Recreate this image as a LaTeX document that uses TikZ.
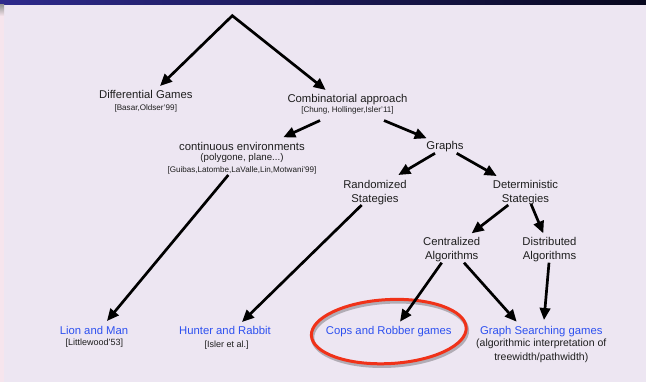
\documentclass[tikz,border=0pt]{standalone}
\usepackage{fontspec}
\setmainfont{Liberation Sans}
\usepackage{tikz}
\usetikzlibrary{calc, arrows.meta}
\definecolor{fond}{RGB}{237,230,242}
\definecolor{bande}{RGB}{246,229,237}
\definecolor{barreA}{RGB}{46,42,140}
\definecolor{barreB}{RGB}{8,8,30}
\definecolor{lien}{RGB}{45,80,240}
\definecolor{texte}{RGB}{30,30,30}
\definecolor{cercle}{RGB}{240,50,25}
\tikzstyle{titre}=[font=\fontsize{11.3}{13.8}\selectfont, text=texte, anchor=base, inner sep=0pt, align=center]
\tikzstyle{jeu}=[titre, text=lien]
\tikzstyle{biblio}=[font=\fontsize{8.1}{9}\selectfont, text=texte, anchor=base, inner sep=0pt]
\tikzstyle{biblioB}=[biblio, font=\fontsize{9}{10}\selectfont]
\tikzstyle{remarque}=[font=\fontsize{9.7}{13.5}\selectfont, text=texte, anchor=base, inner sep=0pt, align=center]
\tikzstyle{fleche}=[line width=2.7pt, -{Triangle[length=12pt,width=10.5pt]}]

\begin{document}
\begin{tikzpicture}[x=1pt, y=-1pt]
	% fond du transparent
	\fill[fond] (0,0) rectangle (646,382);
	\fill[bande] (0,0) rectangle (4,382);
	\shade[left color=barreA, right color=barreB] (0,0) rectangle (646,5);
	\shade[top color=gray!80, bottom color=bande] (0,5) rectangle (4,16);
	\useasboundingbox (0,0) rectangle (646,382);
	
	\coordinate (racine) at (232.3,15.7);
	
	% noeuds (base = derniere ligne)
	\node[titre] (diff) at (145.8,98.5) {Differential Games};
	\node[biblio] (diffref) at (145.8,110.5) {[Basar,Oldser'99]};
	\node[titre] (comb) at (347.5,102.5) {Combinatorial approach};
	\node[biblio] (combref) at (347.5,113) {[Chung, Hollinger,Isler'11]};
	\node[titre] (cont) at (242,150.5) {continuous environments};
	\node[remarque] (contnote) at (242,160.5) {(polygone, plane...)};
	\node[biblio] (contref) at (242,172.5) {[Guibas,Latombe,LaValle,Lin,Motwani'99]};
	\node[titre] (graphs) at (445,149.5) {Graphs};
	\node[titre] (rand) at (375,202.3) {Randomized\\Stategies};
	\node[titre] (det) at (525.5,202.3) {Deterministic\\Stategies};
	\node[titre] (cent) at (451.7,259.6) {Centralized\\Algorithms};
	\node[titre] (dist) at (549.5,259.8) {Distributed\\Algorithms};
	
	% jeux
	\node[jeu] (lion) at (94,335) {Lion and Man};
	\node[biblioB] (lionref) at (94.3,345) {[Littlewood'53]};
	\node[jeu] (hunter) at (225,335) {Hunter and Rabbit};
	\node[biblioB] (hunterref) at (226.7,347.5) {[Isler et al.]};
	\node[jeu] (cops) at (388.8,334.5) {Cops and Robber games};
	\node[jeu] (search) at (541.3,334.5) {Graph Searching games};
	\node[remarque, font=\fontsize{10.5}{13.5}\selectfont] (searchnote) at (541.3,360.5) {(algorithmic interpretation of\\treewidth/pathwidth)};
	
	% ellipse rouge
	\draw[black, opacity=0.25, line width=3.5pt, rotate around={3:(cops.center)}] ([shift={(1,2.5)}]cops.center) ellipse [x radius=77.5, y radius=32];
	\draw[cercle, line width=3pt, rotate around={3:(cops.center)}] (cops.center) ellipse [x radius=77.5, y radius=32];
	
	% fleches
	\draw[fleche, {Triangle[length=12pt,width=10.5pt]}-{Triangle[length=12pt,width=10.5pt]}] ($(diff.base)+(14.2,-12.5)$) -- (racine) -- ($(comb.base)+(-21.8,-12.5)$);
	\draw[fleche] ($(combref.base)+(-27.5,7.5)$) -- ($(cont.base)+(41.3,-13.2)$);
	\draw[fleche] ($(combref.base)+(36.5,7.5)$) -- ($(graphs.base)+(-18.3,-11.2)$);
	\draw[fleche] ($(graphs.base)+(-10,3.8)$) -- ($(rand.base)+(23.3,-27.3)$);
	\draw[fleche] ($(graphs.base)+(11.7,3.8)$) -- ($(det.base)+(-28.8,-26.3)$);
	\draw[fleche] ($(det.base)+(-17.2,2.7)$) -- ($(cent.base)+(20,-26.3)$);
	\draw[fleche] ($(det.base)+(5.5,1.7)$) -- ($(dist.base)+(-6.2,-26.5)$);
	\draw[fleche] ($(cent.base)+(-10,3.1)$) -- ($(cops.base)+(11.2,-12.8)$);
	\draw[fleche] ($(cent.base)+(12.3,3.1)$) -- ($(search.base)+(-24.6,-12.8)$);
	\draw[fleche] ($(dist.base)+(-0.5,2.9)$) -- ($(search.base)+(2.7,-14.5)$);
	\draw[fleche] ($(contref.base)+(-13.7,2.5)$) -- ($(lion.base)+(13,-14)$);
	\draw[fleche] ($(rand.base)+(-13.3,2.7)$) -- ($(hunter.base)+(17,-13)$);
\end{tikzpicture}
\end{document}
